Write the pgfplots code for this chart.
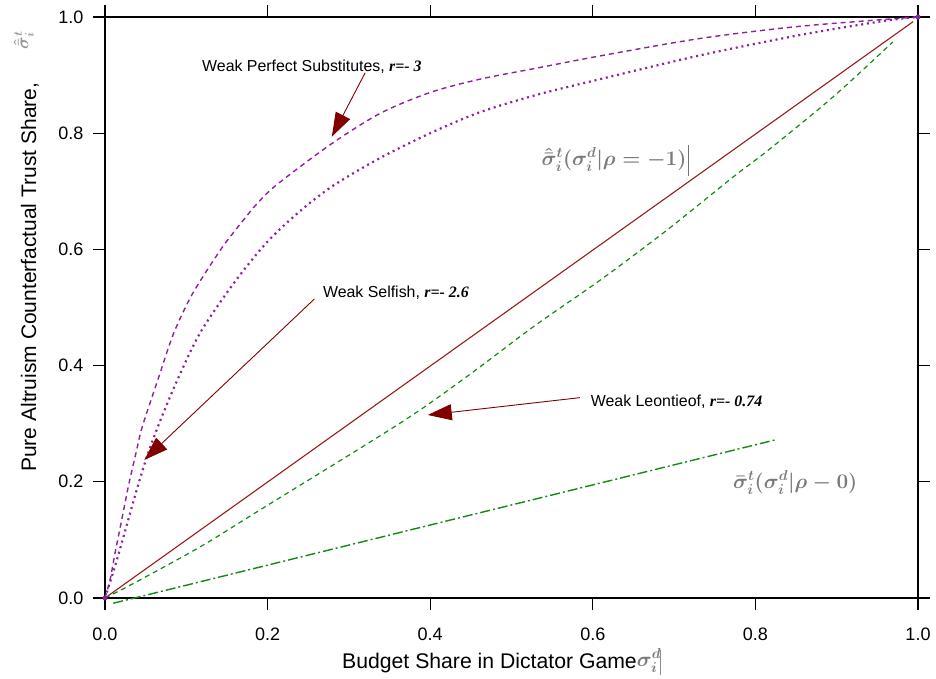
\documentclass[border=0pt]{standalone}
\usepackage{pgfplots}
\pgfplotsset{compat=1.18}
\usepackage{fontspec}
\setmainfont{Liberation Sans}
\newfontfamily\tnr{Liberation Serif}
\usetikzlibrary{arrows.meta}
\definecolor{cpurple}{HTML}{8E1F9E}
\definecolor{dred}{HTML}{800000}
\definecolor{lred}{HTML}{9A1A1A}
\definecolor{cgreen}{HTML}{128A12}
\definecolor{fgray}{HTML}{7A7A7A}
\usepackage{amsmath,amsbsy}
\newcommand\formA{\ensuremath{\boldsymbol{\hat{\bar{\sigma}}^t_i(\sigma^d_i\vert\rho=-1)}}}
\newcommand\formB{\ensuremath{\boldsymbol{\bar{\sigma}^t_i(\sigma^d_i\vert\rho-0)}}}
\newcommand\sigd{\ensuremath{\boldsymbol{\sigma^d_i}}}
\newcommand\sigt{\ensuremath{\boldsymbol{\hat{\bar{\sigma}}^t_i}}}
\begin{document}
\begin{tikzpicture}
\begin{axis}[name=ax, at={(0,0)}, anchor=south west,
  scale only axis, width=813pt, height=581pt,
  xmin=0, xmax=1, ymin=0, ymax=1, clip=false,
  axis line style={line width=1.6pt, black},
  xtick align=outside, ytick align=outside,
  xtick pos=both, ytick pos=both,
  major tick length=12pt,
  major tick style={draw=black, line width=1.1pt},
  xtick={0,0.2,0.4,0.6,0.8,1}, ytick={0,0.2,0.4,0.6,0.8,1},
  xticklabels={0.0,0.2,0.4,0.6,0.8,1.0},
  yticklabels={0.0,0.2,0.4,0.6,0.8,1.0},
  tick label style={font=\fontsize{18}{20}\selectfont},
  xticklabel style={yshift=-14pt},
  yticklabel style={xshift=-6pt},
  /pgf/number format/assume math mode=true,
]
% r = -3, dashed purple
\addplot[cpurple, line width=1.4pt, dash pattern=on 5pt off 4pt, smooth, tension=0.5] coordinates {
(0,0) (0.0062,0.031) (0.0123,0.077) (0.0205,0.134) (0.0287,0.192) (0.038,0.249)
(0.0459,0.295) (0.0656,0.378) (0.084,0.454) (0.1046,0.516) (0.125,0.563)
(0.1455,0.606) (0.166,0.643) (0.1866,0.678) (0.211,0.711) (0.2768,0.780)
(0.3383,0.834) (0.3998,0.870) (0.4613,0.893) (0.531,0.912) (0.6089,0.933)
(0.7319,0.963) (0.855,0.984) (1,1)};
% r = -2.6, dotted purple
\addplot[cpurple, line width=2.2pt, dash pattern=on 2pt off 3.8pt, smooth, tension=0.5] coordinates {
(0,0) (0.008,0.035) (0.0176,0.080) (0.0287,0.135) (0.0398,0.190) (0.052,0.245)
(0.0665,0.300) (0.088,0.372) (0.1169,0.456) (0.158,0.541) (0.199,0.612)
(0.240,0.666) (0.281,0.710) (0.338,0.757) (0.400,0.800) (0.461,0.836)
(0.531,0.866) (0.609,0.893) (0.732,0.934) (0.855,0.969) (0.957,0.993) (1,1)};
% rho = -1, solid dark red
\addplot[lred, line width=1.1pt] coordinates {(0,0) (0.994,0.992)};
% r = -0.74, dashed green
\addplot[cgreen, line width=1.2pt, dash pattern=on 5pt off 4pt, smooth, tension=0.5] coordinates {
(0,0) (0.035,0.025) (0.117,0.088) (0.19,0.151) (0.363,0.301) (0.445,0.381)
(0.527,0.467) (0.609,0.547) (0.691,0.633) (0.773,0.725) (0.816,0.771)
(0.896,0.863) (0.969,0.957)};
% rho = 0, dash-dot green
\addplot[cgreen, line width=1.4pt, dash pattern=on 10pt off 3pt on 2pt off 3pt] coordinates {
(0.0102,-0.009) (0.824,0.272)};
% end markers
\addplot[only marks, mark=*, mark size=2.2pt, cpurple] coordinates {(0,0) (1,1)};
\end{axis}
\begin{scope}[x=813pt, y=581pt]
\draw[dred, line width=0.9pt, -{Triangle[length=24pt,width=16pt]}] (0.320,0.904) -- (0.279,0.794);
\draw[dred, line width=0.9pt, -{Triangle[length=24pt,width=16pt]}] (0.2575,0.5146) -- (0.0483,0.2375);
\draw[dred, line width=0.9pt, -{Triangle[length=24pt,width=16pt]}] (0.584,0.3448) -- (0.397,0.315);
\node[anchor=base west, inner sep=0pt, font=\fontsize{15.9}{17}\selectfont] at (0.1193,0.906) {Weak Perfect Substitutes, {\tnr\bfseries\itshape r=- 3}};
\node[anchor=base west, inner sep=0pt, font=\fontsize{15.9}{17}\selectfont] at (0.268,0.5174) {Weak Selfish, {\tnr\bfseries\itshape r=- 2.6}};
\node[anchor=base west, inner sep=0pt, font=\fontsize{15.9}{17}\selectfont] at (0.5974,0.329) {Weak Leontieof, {\tnr\bfseries\itshape r=- 0.74}};
\node[inner sep=0pt, text=fgray, font=\fontsize{20}{22}\selectfont] at (0.626,0.754) {\formA};
\draw[black!55, line width=0.9pt] (0.718,0.727) -- (0.718,0.779);
\node[inner sep=0pt, text=fgray, font=\fontsize{21}{23}\selectfont] at (0.849,0.198) {\formB};
\node[anchor=west, inner sep=0pt, font=\fontsize{21.2}{23}\selectfont] at (0.2915,-0.112) {Budget Share in Dictator Game};
\node[inner sep=0pt, text=fgray, font=\fontsize{20}{22}\selectfont] at (0.669,-0.108) {\sigd};
\draw[black!45, line width=0.9pt] (0.683,-0.090) -- (0.683,-0.132);
\node[inner sep=0pt, rotate=90, font=\fontsize{21}{23}\selectfont] at (-0.0923,0.552) {Pure Altruism Counterfactual Trust Share,};
\node[inner sep=0pt, rotate=90, text=fgray!80, font=\fontsize{18}{20}\selectfont] at (-0.100,0.960) {\sigt};
\end{scope}
\pgfresetboundingbox
\useasboundingbox (-105pt,-81pt) rectangle (831pt,598pt);
\end{tikzpicture}
\end{document}
